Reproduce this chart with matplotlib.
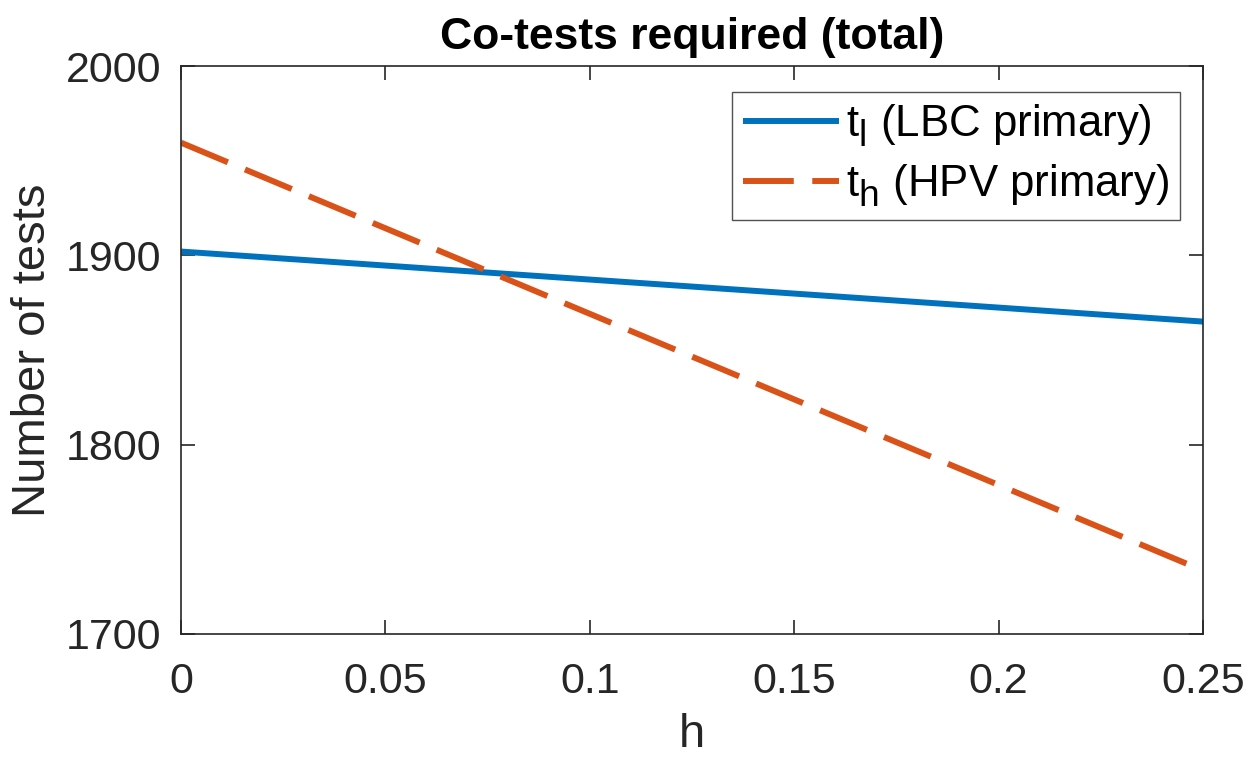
import numpy as np
import matplotlib
matplotlib.use("Agg")
import matplotlib.pyplot as plt
import matplotlib._mathtext as _mt

h = [0.0, 0.05, 0.10, 0.15, 0.20, 0.25]
t_l = [1902.0, 1894.6, 1887.2, 1879.8, 1872.4, 1865.0]
t_h = [1959.5, 1914.3, 1869.1, 1823.9, 1778.7, 1733.5]
xticks = [0, 0.05, 0.1, 0.15, 0.2, 0.25]
xticklabels = ["0", "0.05", "0.1", "0.15", "0.2", "0.25"]
yticks = [1700, 1800, 1900, 2000]

plt.rcParams['font.family'] = ['Liberation Sans', 'DejaVu Sans']
plt.rcParams['mathtext.fontset'] = 'custom'
plt.rcParams['mathtext.rm'] = 'Liberation Sans'
plt.rcParams['mathtext.it'] = 'Liberation Sans'
try:
    _mt.SHRINK_FACTOR = 0.85
    _mt.FontConstantsBase.sub1 = 0.45
except Exception:
    pass

fig = plt.figure(figsize=(12.52, 7.57), dpi=100)
ax = fig.add_axes([0.1446, 0.1625, 0.9609 - 0.1446, 0.9128 - 0.1625])

ax.plot(h, t_l, color='#0072BD', lw=4.3, solid_capstyle='butt',
        label=r'$\mathregular{t_l}$ (LBC primary)')
ax.plot(h, t_h, color='#D95319', lw=4.3, ls=(0, (8.5, 3.1)), dash_capstyle='butt',
        label=r'$\mathregular{t_h}$ (HPV primary)')

ax.set_xlim(0, 0.25)
ax.set_ylim(1700, 2000)
ax.set_xticks(xticks)
ax.set_xticklabels(xticklabels)
ax.set_yticks(yticks)
ax.tick_params(direction='in', length=10, width=1.2, labelsize=31, colors='#262626',
               top=True, right=True)
ax.tick_params(axis='x', pad=20)
ax.tick_params(axis='y', pad=14)
for s in ax.spines.values():
    s.set_color('#262626')
    s.set_linewidth(1.2)

ax.set_xlabel('h', fontsize=34, color='#262626', labelpad=8)
ax.set_ylabel('Number of tests', fontsize=34, color='#262626', labelpad=8)
ax.set_title('Co-tests required (total)', fontsize=32, fontweight='bold', pad=12)

leg = ax.legend(loc='upper right', bbox_to_anchor=(0.977, 0.955), fontsize=31.5,
                frameon=True, fancybox=False, edgecolor='#262626', handlelength=2.2,
                handletextpad=0.15, borderpad=0.25, labelspacing=0.3, borderaxespad=0)
leg.get_frame().set_linewidth(1.0)

fig.savefig('out.png', dpi=100, facecolor='white')
